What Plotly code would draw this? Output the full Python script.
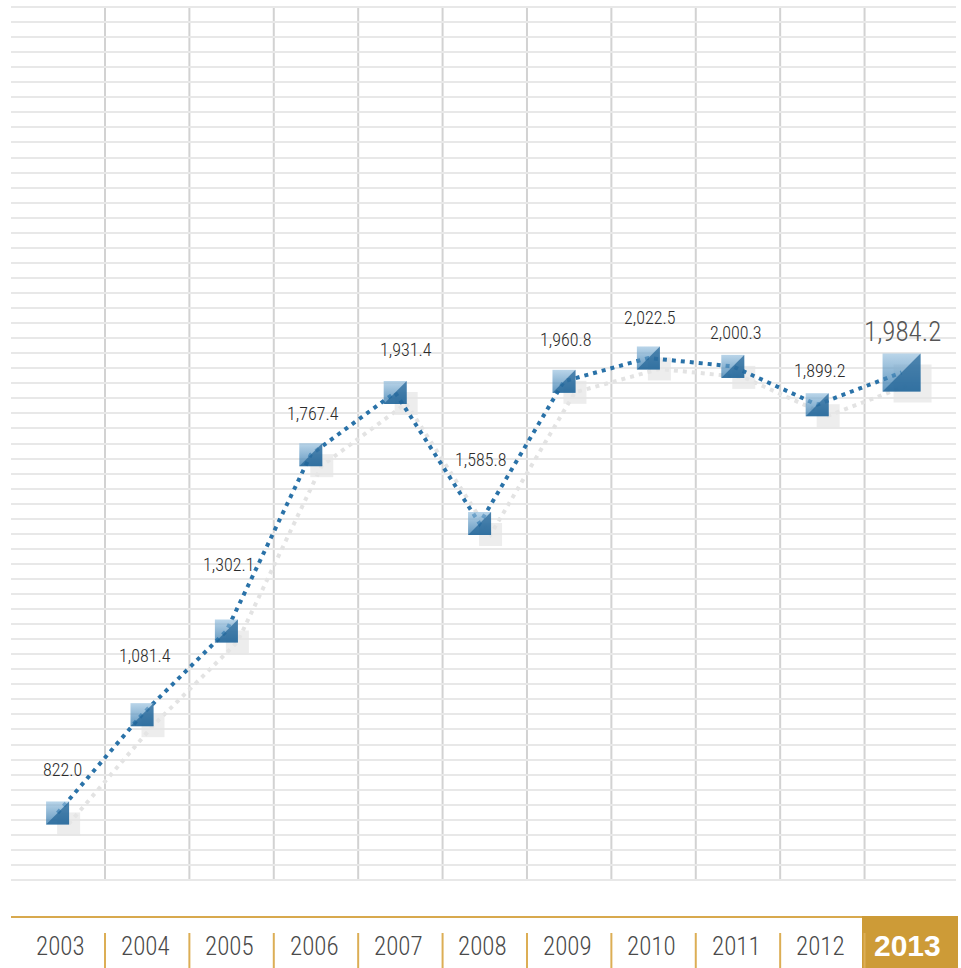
import plotly.graph_objects as go

# ---- data ----
years = ["2003", "2004", "2005", "2006", "2007", "2008", "2009", "2010", "2011", "2012", "2013"]
values = [822.0, 1081.4, 1302.1, 1767.4, 1931.4, 1585.8, 1960.8, 2022.5, 2000.3, 1899.2, 1984.2]
value_labels = ["822.0", "1,081.4", "1,302.1", "1,767.4", "1,931.4", "1,585.8",
                "1,960.8", "2,022.5", "2,000.3", "1,899.2", "1,984.2"]

# ---- layout geometry ----
W, H = 961, 968
PAD = 3                          # extra px around grid so edge gridlines are drawn
ML, MR, MT, MB = 11, 5, 7 - PAD, 88 - PAD
PW = W - ML - MR
PH = H - MT - MB
XR = [-0.552, 10.645]
YR = [645.1, 2948.5]            # grid extent
PXX = PW / (XR[1] - XR[0])      # px per x unit
PXY = (PH - 2 * PAD) / (YR[1] - YR[0])   # px per y unit
YRANGE = [YR[0] - PAD / PXY, YR[1] + PAD / PXY]
GRID_STEP = (YR[1] - YR[0]) / 58

xs = list(range(len(years)))
sizes = [23] * (len(years) - 1) + [38]
label_dy = [43, 59, 66, 41, 43, 64, 42, 40, 34, 34, 40]
label_dx = [5, 3, 3, 2, 11, 1, 2, 2, 3, 3, 1]

NARROW = "Liberation Sans Narrow, Arial Narrow, Roboto Condensed, sans-serif"

fig = go.Figure()

# shadow (offset in pixels converted to data units)
sh_x = [x + 11 / PXX for x in xs]
sh_y = [v - 11 / PXY for v in values]
fig.add_trace(go.Scatter(x=sh_x, y=sh_y, mode="lines",
                         line=dict(color="#e3e3e3", width=4, dash="4px,5px"),
                         hoverinfo="skip", showlegend=False))
fig.add_trace(go.Scatter(x=sh_x, y=sh_y, mode="markers",
                         marker=dict(symbol="square", size=sizes, color="#e5e5e5",
                                     line=dict(width=0)),
                         hoverinfo="skip", showlegend=False))

# main dotted line
fig.add_trace(go.Scatter(x=xs, y=values, mode="lines",
                         line=dict(color="#2a72a8", width=4, dash="4px,5px"),
                         hoverinfo="skip", showlegend=False))
# main squares (light gradient)
fig.add_trace(go.Scatter(x=xs, y=values, mode="markers",
                         marker=dict(symbol="square", size=sizes, color="#9cc3e0",
                                     gradient=dict(type="vertical", color="#206ca5"),
                                     line=dict(width=0)),
                         showlegend=False))
# dark lower-right half
tri_x = [x + (s / 6) / PXX for x, s in zip(xs, sizes)]
tri_y = [v - (s / 6) / PXY for v, s in zip(values, sizes)]
fig.add_trace(go.Scatter(x=tri_x, y=tri_y, mode="markers",
                         marker=dict(symbol="triangle-se", size=[s / 0.9 for s in sizes],
                                     color="#1f6396", line=dict(width=0)),
                         hoverinfo="skip", showlegend=False))

shapes = []
# vertical grid lines between columns
for i in range(len(years) - 1):
    shapes.append(dict(type="line", xref="x", yref="y", x0=i + 0.5616, x1=i + 0.5616,
                       y0=YR[0], y1=YR[1], line=dict(color="#d2d2d2", width=2),
                       layer="below"))


def px_to_paper_x(px):
    return (px - ML) / PW


def py_to_paper_y(py):
    return (MT + PH - py) / PH


def data_to_paper_x(x):
    return (x - XR[0]) / (XR[1] - XR[0])


# bottom gold band
shapes.append(dict(type="line", xref="paper", yref="paper",
                   x0=0, x1=px_to_paper_x(862), y0=py_to_paper_y(917), y1=py_to_paper_y(917),
                   line=dict(color="#d8a94e", width=2)))
shapes.append(dict(type="rect", xref="paper", yref="paper",
                   x0=px_to_paper_x(862), x1=px_to_paper_x(958),
                   y0=py_to_paper_y(969), y1=py_to_paper_y(916),
                   fillcolor="#cd9b37", line=dict(width=0)))
for i in range(len(years) - 1):
    xp = data_to_paper_x(i + 0.5616)
    shapes.append(dict(type="line", xref="paper", yref="paper", x0=xp, x1=xp,
                       y0=py_to_paper_y(933), y1=py_to_paper_y(969),
                       line=dict(color="#dcae55", width=2)))

annotations = []
for i, (y, v, lab) in enumerate(zip(years, values, value_labels)):
    last = i == len(years) - 1
    annotations.append(dict(x=i, y=v, xref="x", yref="y", text=lab, showarrow=False,
                            xanchor="center", yanchor="middle",
                            xshift=label_dx[i], yshift=label_dy[i],
                            font=dict(family=NARROW, size=27 if last else 18, weight=300,
                                      color="#555555" if last else "#2b2b2b")))
    if last:
        annotations.append(dict(x=i + 0.076, y=py_to_paper_y(945), xref="x", yref="paper",
                                text="<b>" + y + "</b>", showarrow=False,
                                xanchor="center", yanchor="middle",
                                font=dict(family="Liberation Sans, Arial, sans-serif",
                                          size=30, color="#ffffff")))
    else:
        annotations.append(dict(x=i + 0.04, y=py_to_paper_y(947), xref="x", yref="paper",
                                text=y, showarrow=False, xanchor="center", yanchor="middle",
                                font=dict(family=NARROW, size=25, weight=300,
                                          color="#4a4a4a")))

fig.update_layout(
    width=W, height=H,
    margin=dict(l=ML, r=MR, t=MT, b=MB, pad=0),
    paper_bgcolor="#ffffff", plot_bgcolor="#ffffff",
    xaxis=dict(range=XR, showgrid=False, zeroline=False, showticklabels=False,
               showline=False, ticks="", fixedrange=True),
    yaxis=dict(range=YRANGE, showgrid=True, gridcolor="#e8e8e8", gridwidth=2,
               tick0=YR[0], dtick=GRID_STEP, zeroline=False,
               showticklabels=False, showline=False, ticks="", fixedrange=True),
    shapes=shapes,
    annotations=annotations,
    showlegend=False,
)

fig.write_html("out.html")
